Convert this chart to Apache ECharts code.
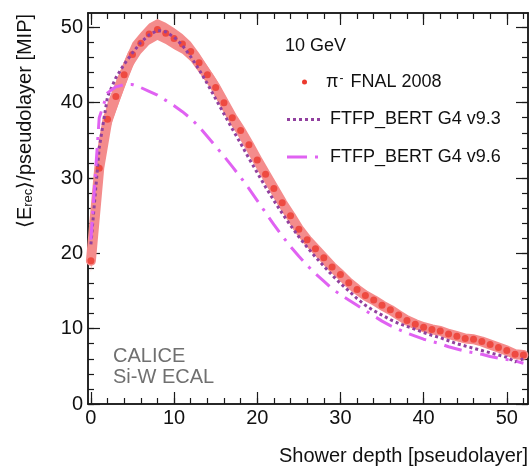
<!DOCTYPE html>
<html>
<head>
<meta charset="utf-8">
<title>Shower profile 10 GeV</title>
<script src="https://cdn.jsdelivr.net/npm/echarts@6/dist/echarts.min.js"></script>
<style>
  html, body { margin: 0; padding: 0; background: #fff; }
  #chart { width: 531px; height: 469px; }
</style>
</head>
<body>
<div id="chart"></div>
<script>
// pseudolayer index (x)
const layers = [0,1,2,3,4,5,6,7,8,9,10,11,12,13,14,15,16,17,18,19,20,21,22,23,24,25,26,
  27,28,29,30,31,32,33,34,35,36,37,38,39,40,41,42,43,44,45,46,47,48,49,50,51,52];

// pi- FNAL 2008 data
const fnal = [19.0,31.3,37.8,40.8,43.7,46.4,47.9,49.1,49.7,49.2,
  48.5,47.8,46.8,45.3,43.7,42.0,40.0,38.0,36.3,34.4,
  32.4,30.5,28.6,26.7,25.0,23.2,21.8,20.6,19.4,18.2,
  17.2,16.1,15.2,14.4,13.8,13.1,12.5,11.8,11.1,10.6,
  10.2,9.9,9.7,9.3,9.0,8.7,8.6,8.3,7.9,7.5,
  7.1,6.6,6.5];
// half height of the error band
const fnalErr = [1.5,2.5,2.2,2.0,1.8,1.6,1.4,1.4,1.4,1.4,
  1.4,1.3,1.3,1.3,1.2,1.2,1.2,1.1,1.1,1.0,
  1.0,1.0,0.9,0.9,0.9,0.8,0.8,0.8,0.7,0.7,
  0.7,0.6,0.6,0.6,0.6,0.5,0.5,0.5,0.5,0.5,
  0.5,0.5,0.5,0.5,0.5,0.5,0.5,0.5,0.5,0.5,
  0.5,0.5,0.5];

// FTFP_BERT G4 v9.3
const g4v93 = [21.2,34.0,40.8,43.3,45.1,46.6,48.0,49.0,49.6,49.4,
  48.7,47.6,46.1,44.4,42.5,40.5,38.5,36.5,34.6,32.6,
  30.7,28.8,27.0,25.3,23.7,22.2,20.8,19.5,18.3,17.1,
  16.0,15.0,14.0,13.1,12.4,11.8,11.2,10.7,10.3,9.9,
  9.5,9.1,8.8,8.4,8.0,7.7,7.4,7.1,6.8,6.5,
  6.2,5.6,6.0];

// FTFP_BERT G4 v9.6
const g4v96 = [21.8,38.0,41.3,42.1,42.4,42.4,42.0,41.5,41.0,40.3,
  39.6,38.8,37.9,36.8,35.5,34.2,32.9,31.5,30.1,28.6,
  27.0,25.4,23.8,22.3,20.9,19.6,18.4,17.3,16.3,15.3,
  14.5,13.8,13.1,12.4,11.7,11.0,10.4,9.9,9.4,9.0,
  8.6,8.3,8.0,7.6,7.3,7.0,6.8,6.6,6.3,6.1,
  5.9,5.7,5.4];

const xMajor = [0,10,20,30,40,50];
const xMinor = [0,2,4,6,8,10,12,14,16,18,20,22,24,26,28,30,32,34,36,38,40,42,44,46,48,50,52];
const yMajor = [0,10,20,30,40,50];
const yMinor = [0,2,4,6,8,10,12,14,16,18,20,22,24,26,28,30,32,34,36,38,40,42,44,46,48,50];

const font = "'Liberation Sans', Arial, Helvetica, sans-serif";
const bandColor = '#f48c8c';
const redColor = '#ec3a2e';
const purple = '#91409f';
const magenta = '#e062f2';

function axis(dim, position, ticks, tickLen, labels) {
  const isX = dim === 'x';
  return {
    type: 'value',
    position: position,
    min: isX ? -0.35 : 0,
    max: isX ? 52.55 : 51.9,
    axisLine: { show: true, onZero: false, lineStyle: { color: '#1a1a1a', width: 1.5 } },
    axisTick: { show: true, inside: true, length: tickLen, customValues: ticks,
      lineStyle: { color: '#1a1a1a', width: 1.2 } },
    axisLabel: labels ? { show: true, customValues: labels, fontSize: 20, fontFamily: font,
      color: '#111', margin: isX ? 4 : 5 } : { show: false },
    splitLine: { show: false },
    silent: true
  };
}

const pts = (ys) => layers.map((x, i) => [x, ys[i]]);

const chart = echarts.init(document.getElementById('chart'), null, { renderer: 'canvas' });
chart.setOption({
  animation: false,
  backgroundColor: '#fff',
  grid: { left: 88, right: 3, top: 13, bottom: 65, outerBoundsMode: 'none' },
  xAxis: [
    axis('x', 'bottom', xMajor, 12, xMajor),
    axis('x', 'bottom', xMinor, 6),
    axis('x', 'top', xMajor, 12),
    axis('x', 'top', xMinor, 6)
  ],
  yAxis: [
    axis('y', 'left', yMajor, 12, yMajor),
    axis('y', 'left', yMinor, 6),
    axis('y', 'right', yMajor, 12),
    axis('y', 'right', yMinor, 6)
  ],
  series: [
    {
      // error band of the data
      type: 'custom',
      silent: true,
      z: 1,
      data: [[0, 0]],
      renderItem: function (params, api) {
        const upper = layers.map((x, i) => api.coord([x, fnal[i] + fnalErr[i]]));
        const lower = layers.map((x, i) => api.coord([x, fnal[i] - fnalErr[i]])).reverse();
        return { type: 'polygon', shape: { points: upper.concat(lower) }, style: { fill: bandColor } };
      }
    },
    {
      type: 'line',
      silent: true,
      z: 1,
      data: pts(fnal),
      showSymbol: false,
      lineStyle: { color: bandColor, width: 10, join: 'round', cap: 'round' }
    },
    {
      name: 'π- FNAL 2008',
      type: 'scatter',
      z: 3,
      data: pts(fnal),
      symbolSize: 7,
      itemStyle: { color: redColor }
    },
    {
      name: 'FTFP_BERT G4 v9.3',
      type: 'line',
      z: 4,
      data: pts(g4v93),
      showSymbol: false,
      lineStyle: { color: purple, width: 3, type: [3, 3] }
    },
    {
      name: 'FTFP_BERT G4 v9.6',
      type: 'line',
      z: 4,
      data: pts(g4v96),
      showSymbol: false,
      lineStyle: { color: magenta, width: 3, type: [18, 8, 3, 8] }
    }
  ],
  graphic: [
    { type: 'text', x: 285, y: 46, style: { text: '10 GeV', font: '18px ' + font, fill: '#111', verticalAlign: 'middle' } },
    { type: 'circle', shape: { cx: 304.5, cy: 82, r: 2.5 }, style: { fill: redColor } },
    { type: 'text', x: 326, y: 82, style: {
        text: '{pi|π}{sup|-} FNAL 2008', font: '18px ' + font, fill: '#111', verticalAlign: 'middle',
        rich: { pi: { font: '18px ' + font, fill: '#111' }, sup: { font: '12px ' + font, fill: '#111', verticalAlign: 'top', padding: [0, 2, 0, 1] } } } },
    { type: 'line', shape: { x1: 287, y1: 119.5, x2: 320, y2: 119.5 }, style: { stroke: purple, lineWidth: 3, lineDash: [3, 3] } },
    { type: 'text', x: 330, y: 119.5, style: { text: 'FTFP_BERT G4 v9.3', font: '18px ' + font, fill: '#111', verticalAlign: 'middle' } },
    { type: 'line', shape: { x1: 287, y1: 157, x2: 318, y2: 157 }, style: { stroke: magenta, lineWidth: 3, lineDash: [20, 8, 3, 8] } },
    { type: 'text', x: 330, y: 157, style: { text: 'FTFP_BERT G4 v9.6', font: '18px ' + font, fill: '#111', verticalAlign: 'middle' } },
    { type: 'text', x: 113, y: 356.5, style: { text: 'CALICE', font: '20px ' + font, fill: '#707070', verticalAlign: 'middle' } },
    { type: 'text', x: 113, y: 377, style: { text: 'Si-W ECAL', font: '20px ' + font, fill: '#707070', verticalAlign: 'middle' } },
    // axis titles
    { type: 'text', x: 528, y: 456, style: { text: 'Shower depth [pseudolayer]', font: '20px ' + font, fill: '#111', align: 'right', verticalAlign: 'middle' } },
    { type: 'text', x: 25, y: 121, rotation: Math.PI / 2, style: {
        text: '⟨E{sub|rec}⟩/pseudolayer [MIP]', font: '20px ' + font, fill: '#111', align: 'center', verticalAlign: 'middle',
        rich: { sub: { font: '13px ' + font, fill: '#111', verticalAlign: 'bottom' } } } }
  ]
});
</script>
</body>
</html>
